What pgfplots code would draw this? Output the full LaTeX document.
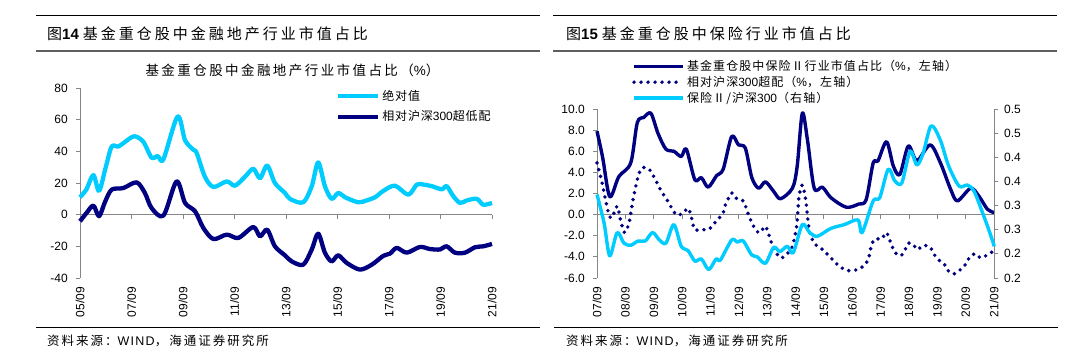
\documentclass[border=0pt]{standalone}
\usepackage{pgfplots}
\pgfplotsset{compat=1.18}
\usepackage{pgfplotstable}
\usepackage{fontspec}
\setmainfont{Liberation Sans}
\newfontfamily\cjk{Noto Sans CJK SC}
\newfontfamily\cjkH[LetterSpace=20]{Noto Sans CJK SC}
\newfontfamily\cjkT[LetterSpace=18]{Noto Sans CJK SC}
\newfontfamily\cjkL[LetterSpace=7]{Noto Sans CJK SC}
\newfontfamily\cjkR[LetterSpace=9]{Noto Sans CJK SC}
\newfontfamily\cjkF[LetterSpace=16]{Noto Sans CJK SC}
\newfontfamily\latF[LetterSpace=10]{Liberation Sans}
\definecolor{navy}{RGB}{0,0,128}
\definecolor{sky}{RGB}{0,204,255}
\definecolor{axgray}{RGB}{134,134,134}
\definecolor{rulegray}{RGB}{95,95,95}

\pgfplotstableread{
x y
2005.75 11
2006.0 16
2006.27 25
2006.49 15
2006.75 30
2006.98 43
2007.24 43
2007.50 46
2007.86 49.5
2008.21 46
2008.53 36
2008.77 37
2008.99 35
2009.54 62
2009.83 47
2010.15 41
2010.28 39
2010.60 24
2010.93 17.5
2011.45 21
2011.77 18.3
2012.16 24
2012.48 29
2012.74 23
2013.02 31
2013.32 20
2013.71 13.7
2013.91 9.9
2014.42 7.8
2014.75 18
2015.0 33
2015.26 18
2015.52 10
2015.78 13.7
2016.04 11
2016.56 7.8
2016.88 9
2017.21 11
2017.53 15
2017.98 18.3
2018.5 12.6
2018.83 19
2019.08 19
2019.41 18
2019.8 16
2019.99 18
2020.25 11.6
2020.51 7.4
2020.77 9
2021.16 10
2021.41 6.3
2021.75 7.4
}\leftabs

\pgfplotstableread{
x y
2005.75 -4.2
2006.0 1
2006.27 5.7
2006.49 -1
2006.72 8
2006.98 15.8
2007.43 16.8
2007.95 20.4
2008.27 13.7
2008.53 4.2
2008.99 -0.6
2009.5 21
2009.83 7.4
2010.22 2.1
2010.54 -8.4
2010.93 -15.4
2011.45 -12.6
2011.9 -14.7
2012.48 -7.8
2012.74 -13.7
2013.02 -9.5
2013.32 -20
2013.71 -25.7
2013.97 -29.5
2014.42 -31.6
2014.75 -22
2015.0 -12
2015.26 -24
2015.52 -29.5
2015.78 -25.7
2016.11 -30.5
2016.62 -34.7
2017.08 -31.6
2017.53 -26
2017.79 -24.6
2018.05 -21
2018.44 -24
2018.95 -20.4
2019.34 -21.7
2019.73 -22
2019.99 -20
2020.31 -24
2020.7 -24
2021.09 -20.6
2021.41 -20
2021.75 -18.5
}\leftrel

\pgfplotstableread{
x y
2007.75 7.9
2007.95 5.4
2008.2 1.7
2008.52 3.6
2008.94 4.9
2009.17 8.7
2009.4 9.2
2009.65 9.6
2009.9 7.7
2010.18 6.2
2010.46 6.0
2010.72 5.5
2010.9 6.2
2011.2 3.3
2011.43 3.5
2011.67 2.6
2011.97 3.7
2012.2 4.3
2012.5 7.4
2012.74 6.6
2012.98 6.3
2013.21 3.5
2013.45 2.5
2013.69 3.1
2013.98 2.2
2014.22 1.5
2014.64 2.5
2014.81 4.6
2014.99 9.6
2015.17 7.1
2015.41 2.5
2015.7 2.6
2016.0 1.6
2016.54 0.7
2016.98 1.0
2017.24 1.4
2017.49 4.9
2017.66 5.1
2017.96 6.9
2018.2 4.6
2018.43 3.8
2018.73 6.5
2019.03 5.1
2019.5 6.6
2019.86 4.9
2020.22 2.4
2020.46 1.3
2020.93 2.5
2021.23 1.7
2021.52 0.5
2021.75 0.2
}\rightshare

\pgfplotstableread{
x y
2007.75 4.9
2007.81 4.3
2007.93 3.0
2008.05 1.4
2008.17 0
2008.28 -0.3
2008.46 0.8
2008.58 -0.5
2008.72 -1.7
2008.88 -0.8
2009.0 1.1
2009.17 3.3
2009.33 4.4
2009.59 4.3
2009.83 3.2
2010.0 2.3
2010.24 1.3
2010.54 0
2010.78 0.15
2010.96 0.6
2011.07 -0.15
2011.19 -1.4
2011.43 -1.4
2011.69 -1.4
2011.96 -0.6
2012.2 0.15
2012.26 0.8
2012.5 2.05
2012.68 1.5
2012.91 1.3
2013.09 0
2013.33 -1.4
2013.51 -1.7
2013.69 -1.1
2013.87 -2.4
2013.98 -3.2
2014.22 -4.1
2014.46 -3.7
2014.64 -3.0
2014.79 -1.1
2014.87 1.6
2014.99 2.8
2015.11 1.4
2015.23 -1.4
2015.41 -2.7
2015.7 -3.3
2016.0 -4.1
2016.3 -4.9
2016.6 -5.3
2016.95 -5.2
2017.13 -4.9
2017.31 -4.3
2017.43 -2.9
2017.55 -2.3
2017.79 -2.3
2017.96 -1.7
2018.14 -2.9
2018.26 -3.6
2018.46 -3.9
2018.62 -3.3
2018.73 -2.7
2018.89 -2.8
2019.05 -3.3
2019.27 -2.9
2019.51 -3.1
2019.62 -3.7
2019.8 -4.3
2020.0 -4.7
2020.16 -5.4
2020.36 -5.6
2020.57 -5.2
2020.75 -4.7
2020.9 -4.0
2021.08 -3.7
2021.29 -4.1
2021.52 -3.8
2021.76 -3.4
}\rightover

\pgfplotstableread{
x y
2007.75 0.3228
2008.0 0.2638
2008.2 0.1959
2008.46 0.2441
2008.7 0.2222
2008.94 0.2178
2009.2 0.2266
2009.45 0.2266
2009.71 0.2441
2009.95 0.2288
2010.18 0.2222
2010.46 0.2605
2010.72 0.2156
2010.96 0.2069
2011.2 0.1850
2011.43 0.1894
2011.69 0.1675
2011.95 0.1894
2012.1 0.1872
2012.5 0.2288
2012.7 0.2244
2012.91 0.2266
2013.2 0.1981
2013.4 0.1938
2013.69 0.1806
2013.98 0.2134
2014.2 0.2047
2014.46 0.2156
2014.67 0.2025
2014.99 0.2605
2015.25 0.2441
2015.52 0.2364
2016.0 0.2528
2016.47 0.2605
2016.95 0.2703
2017.1 0.2441
2017.49 0.3097
2017.72 0.3163
2018.02 0.3753
2018.25 0.3513
2018.5 0.3469
2018.79 0.4125
2019.03 0.3841
2019.25 0.4081
2019.53 0.4650
2019.85 0.4366
2020.15 0.3819
2020.52 0.3403
2020.81 0.3425
2021.05 0.3294
2021.35 0.2845
2021.6 0.2441
2021.76 0.2156
}\rightratio

\begin{document}
\begin{tikzpicture}
\fill[white] (0pt,0pt) rectangle (1080pt,363pt);
\path[use as bounding box] (0pt,0pt) rectangle (1080pt,363pt);

% ---------- headers and footers ----------
\draw[black, line width=1pt] (36pt,347pt) -- (540pt,347pt);
\draw[rulegray, line width=2pt] (36pt,312pt) -- (540pt,312pt);
\draw[black, line width=1.2pt] (36pt,35.7pt) -- (540pt,35.7pt);
\node[anchor=west, inner sep=0pt] at (47pt,329.5pt) {\fontsize{15}{18}\selectfont\cjkH 图{\rmfamily\bfseries 14}\hspace{4pt}基金重仓股中金融地产行业市值占比};
\node[anchor=west, inner sep=0pt] at (47pt,21.7pt) {\fontsize{12.5}{15}\selectfont\cjkF 资料来源：{\latF WIND}，海通证券研究所};

\draw[black, line width=1pt] (553pt,347pt) -- (1057pt,347pt);
\draw[rulegray, line width=2pt] (553pt,312pt) -- (1057pt,312pt);
\draw[black, line width=1.2pt] (554pt,35.7pt) -- (1058pt,35.7pt);
\node[anchor=west, inner sep=0pt] at (566pt,329.5pt) {\fontsize{15}{18}\selectfont\cjkH 图{\rmfamily\bfseries 15}\hspace{4pt}基金重仓股中保险行业市值占比};
\node[anchor=west, inner sep=0pt] at (566pt,21.7pt) {\fontsize{12.5}{15}\selectfont\cjkF 资料来源：{\latF WIND}，海通证券研究所};

\node[anchor=center, inner sep=0pt] at (292.5pt,293pt) {\fontsize{13.5}{16}\selectfont\cjkT 基金重仓股中金融地产行业市值占比（{\rmfamily\%}）};

% ---------- left chart ----------
\begin{axis}[
  at={(80pt,85pt)}, anchor=south west, scale only axis,
  width=412pt, height=190pt,
  xmin=2005.75, xmax=2021.75, ymin=-40, ymax=80,
  axis y line*=left, axis x line*=bottom,
  x axis line style={draw=none},
  y axis line style={axgray, line width=0.8pt, -},
  xtick={2005.75,2007.75,2009.75,2011.75,2013.75,2015.75,2017.75,2019.75,2021.75},
  xticklabels={05/09,07/09,09/09,11/09,13/09,15/09,17/09,19/09,21/09},
  x tick style={draw=none},
  xticklabel style={yshift=-5pt, rotate=90, anchor=east, inner sep=0pt, font=\fontsize{12}{14}\selectfont},
  ytick={-40,-20,0,20,40,60,80},
  yticklabels={-40,-20,0,20,40,60,80},
  y tick style={axgray, line width=0.8pt},
  tick align=outside, major tick length=4pt,
  yticklabel style={inner sep=0pt, xshift=-8pt, font=\fontsize{12}{14}\selectfont},
  clip=false,
  legend style={at={(axis description cs:0.621,1.0)}, anchor=north west, draw=none, fill=none,
    font=\fontsize{12}{14}\selectfont\cjkL, row sep=5pt, inner sep=0pt, cells={anchor=west}},
  legend image code/.code={\draw[#1] (0pt,0pt) -- (40pt,0pt);},
]
\draw[axgray, line width=0.8pt] (axis cs:2005.75,0) -- (axis cs:2021.75,0);
\pgfplotsinvokeforeach{2005.75,2007.75,2009.75,2011.75,2013.75,2015.75,2017.75,2019.75,2021.75}{
  \draw[axgray, line width=0.8pt] (axis cs:#1,0) -- ([yshift=-4pt]axis cs:#1,0);
}
\addplot[sky, line width=4.3pt, smooth, line join=round] table[x=x,y=y] {\leftabs};
\addlegendentry{绝对值}
\addplot[navy, line width=4.3pt, smooth, line join=round] table[x=x,y=y] {\leftrel};
\addlegendentry{相对沪深{\rmfamily 300}超低配}
\end{axis}

% ---------- right chart, left axis ----------
\begin{axis}[
  at={(597pt,85pt)}, anchor=south west, scale only axis,
  width=397pt, height=169pt,
  xmin=2007.75, xmax=2021.75, ymin=-6, ymax=10,
  axis y line*=left, axis x line*=bottom,
  x axis line style={draw=none},
  y axis line style={axgray, line width=0.8pt, -},
  xtick={2007.75,2008.75,2009.75,2010.75,2011.75,2012.75,2013.75,2014.75,2015.75,2016.75,2017.75,2018.75,2019.75,2020.75,2021.75},
  xticklabels={07/09,08/09,09/09,10/09,11/09,12/09,13/09,14/09,15/09,16/09,17/09,18/09,19/09,20/09,21/09},
  x tick style={draw=none},
  xticklabel style={yshift=-5pt, rotate=90, anchor=east, inner sep=0pt, font=\fontsize{12}{14}\selectfont},
  ytick={-6,-4,-2,0,2,4,6,8,10},
  yticklabels={-6.0,-4.0,-2.0,0.0,2.0,4.0,6.0,8.0,10.0},
  y tick style={axgray, line width=0.8pt},
  tick align=outside, major tick length=4pt,
  yticklabel style={inner sep=0pt, xshift=-8pt, font=\fontsize{12}{14}\selectfont},
  clip=false,
  legend style={at={(axis description cs:0.088,1.30)}, anchor=north west, draw=none, fill=none,
    font=\fontsize{12}{14}\selectfont\cjkR, row sep=0pt, inner sep=0pt, cells={anchor=west}},
  legend image code/.code={\draw[#1] (0pt,0pt) -- (49pt,0pt);},
]
\draw[axgray, line width=0.8pt] (axis cs:2007.75,0) -- (axis cs:2021.75,0);
\pgfplotsinvokeforeach{2007.75,2008.75,2009.75,2010.75,2011.75,2012.75,2013.75,2014.75,2015.75,2016.75,2017.75,2018.75,2019.75,2020.75,2021.75}{
  \draw[axgray, line width=0.8pt] (axis cs:#1,0) -- ([yshift=-4pt]axis cs:#1,0);
}
\addplot[navy, line width=3.4pt, smooth, line join=round] table[x=x,y=y] {\rightshare};
\addlegendentry{基金重仓股中保险Ⅱ行业市值占比（{\rmfamily\%}，左轴）}
\addplot[navy, line width=3.9pt, smooth, line cap=round, dash pattern=on 0pt off 7pt] table[x=x,y=y] {\rightover};
\addlegendentry{相对沪深{\rmfamily 300}超配（{\rmfamily\%}，左轴）}
\addlegendimage{sky, line width=3.4pt}
\addlegendentry{保险Ⅱ/沪深{\rmfamily 300}（右轴）}
\end{axis}

% ---------- right chart, right axis ----------
\begin{axis}[
  at={(597pt,85pt)}, anchor=south west, scale only axis,
  width=397pt, height=169pt,
  xmin=2007.75, xmax=2021.75, ymin=0.15, ymax=0.5,
  axis y line*=right, axis x line=none,
  y axis line style={axgray, line width=0.8pt, -},
  ytick={0.15,0.2,0.25,0.3,0.35,0.4,0.45,0.5},
  yticklabels={0.2,0.2,0.3,0.3,0.4,0.4,0.5,0.5},
  y tick style={axgray, line width=0.8pt},
  tick align=outside, major tick length=4pt,
  yticklabel style={inner sep=0pt, anchor=west, xshift=6pt, font=\fontsize{12}{14}\selectfont},
  clip=false,
]
\addplot[sky, line width=3.4pt, smooth, line join=round] table[x=x,y=y] {\rightratio};
\end{axis}
\end{tikzpicture}
\end{document}
